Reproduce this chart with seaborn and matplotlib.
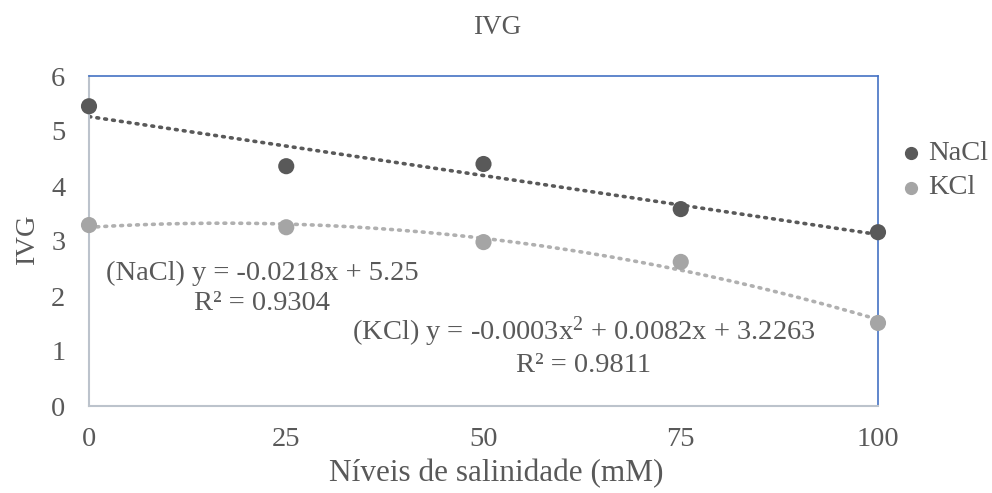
import numpy as np
import pandas as pd
import matplotlib
matplotlib.use("Agg")
import matplotlib.pyplot as plt
from matplotlib.lines import Line2D
import seaborn as sns

levels = [0, 25, 50, 75, 100]
nacl = [5.45, 4.36, 4.40, 3.58, 3.16]
kcl = [3.29, 3.25, 2.98, 2.62, 1.51]
series = ["NaCl", "KCl"]
colors = {"NaCl": "#595959", "KCl": "#A5A5A5"}
trend_colors = {"NaCl": "#595959", "KCl": "#B0B0B0"}
eq_nacl = ["(NaCl) y = -0.0218x + 5.25", "R² = 0.9304"]
eq_kcl = ["(KCl) y = -0.0003x$^2$ + 0.0082x + 3.2263", "R² = 0.9811"]

df = pd.DataFrame({
    "x": levels * 2,
    "y": nacl + kcl,
    "s": ["NaCl"] * 5 + ["KCl"] * 5,
})

sns.set_style("white")
plt.rcParams["font.family"] = ["Liberation Serif", "DejaVu Serif"]
plt.rcParams["mathtext.fontset"] = "custom"
plt.rcParams["mathtext.rm"] = "Liberation Serif"
plt.rcParams["mathtext.it"] = "Liberation Serif"

W, H = 992, 493
fig = plt.figure(figsize=(W/100, H/100), dpi=100)
ax = fig.add_axes([89/W, 1-406/H, (878-89)/W, (406-76)/H])

tc = "#595959"
FS = 20.5

# trendlines (Excel-style least squares fits)
xs = np.linspace(0, 100, 200)
p1 = np.polyfit(levels, nacl, 1)
p2 = np.polyfit(levels, kcl, 2)
ax.plot(xs, np.polyval(p1, xs), linestyle=(0, (0.5, 1.7)), dash_capstyle="round",
        color=trend_colors["NaCl"], lw=2.6, zorder=2)
ax.plot(xs, np.polyval(p2, xs), linestyle=(0, (0.5, 1.7)), dash_capstyle="round",
        color=trend_colors["KCl"], lw=2.6, zorder=2)

sns.scatterplot(data=df, x="x", y="y", hue="s", palette=colors, s=135,
                edgecolor="none", ax=ax, zorder=3, clip_on=False, legend=False)

ax.set_xlim(0, 100)
ax.set_ylim(0, 6)
ax.set_xticks(levels)
ax.set_yticks(range(7))
ax.tick_params(axis="both", labelsize=FS, colors=tc, length=0)
ax.tick_params(axis="x", pad=15)
ax.tick_params(axis="y", pad=17)
ax.set_xlabel("Níveis de salinidade (mM)", fontsize=22.5, color=tc, va="center")
ax.xaxis.set_label_coords((496-89)/789, (406-474)/330)
ax.set_ylabel("IVG", fontsize=FS, color=tc, va="center", ha="center")
ax.yaxis.set_label_coords((28-89)/789, (406-240)/330)

fig.text(497/W, 1-28/H, "IVG", fontsize=19.5, color=tc, ha="center", va="center")

for side in ["top", "right"]:
    ax.spines[side].set_color("#4472C4")
    ax.spines[side].set_linewidth(1.2)
for side in ["left", "bottom"]:
    ax.spines[side].set_color("#BCC3CC")
    ax.spines[side].set_linewidth(1.5)

def ptext(x, y, s):
    fig.text(x/W, 1-y/H, s, fontsize=FS, color=tc, ha="center", va="center")

ptext(262, 273, eq_nacl[0])
ptext(262, 304, eq_nacl[1])
ptext(584, 332, eq_kcl[0])
ptext(583, 365, eq_kcl[1])

# legend
for i, name in enumerate(series):
    yy = 1 - (153 + 35*i)/H
    fig.lines.append(Line2D([911/W], [yy], marker="o", ms=8.5,
                     color=colors[name], transform=fig.transFigure, linestyle="none"))
    fig.text(928/W, yy, name, fontsize=FS, color=tc, va="center", ha="left")

fig.savefig("out.png", dpi=100)
